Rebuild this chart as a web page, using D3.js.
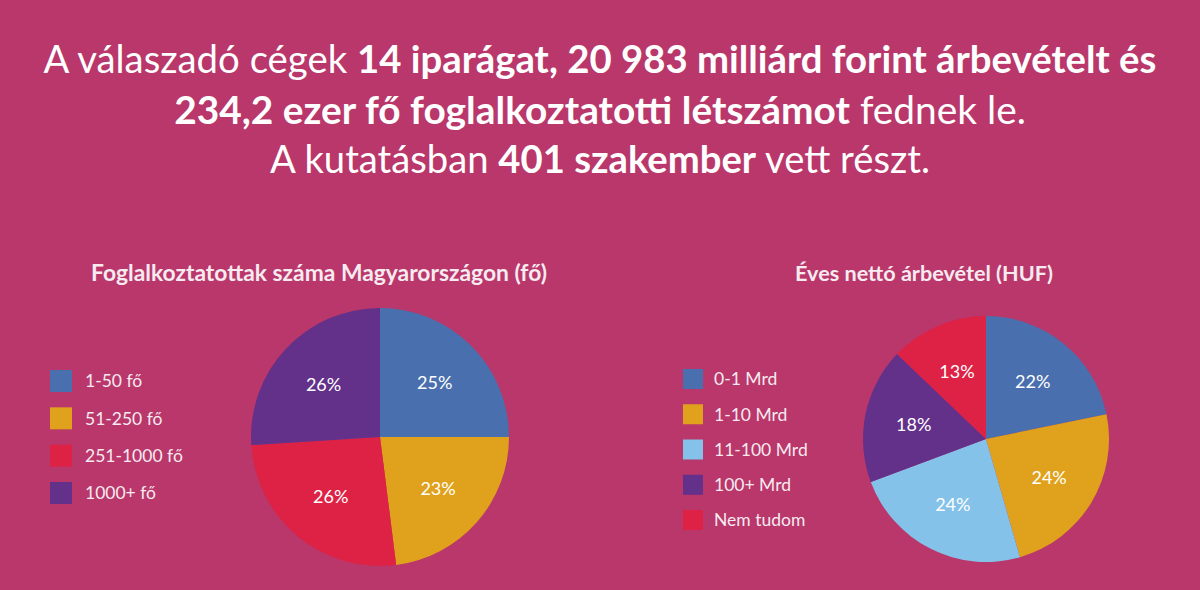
<!DOCTYPE html>
<html>
<head>
<meta charset="utf-8">
<script src="https://cdn.jsdelivr.net/npm/d3@7"></script>
<style>
  html, body { margin: 0; padding: 0; background: #b9376a; }
  svg { display: block; }
</style>
</head>
<body>
<svg id="chart"></svg>
<script>
// headline, each line is a list of [text, bold?] pieces
let headline = [
  [['A válaszadó cégek ', false], ['14 iparágat, 20 983 milliárd forint árbevételt és', true]],
  [['234,2 ezer fő foglalkoztatotti létszámot', true], [' fednek le.', false]],
  [['A kutatásban ', false], ['401 szakember', true], [' vett részt.', false]]
];

// left pie: employees in Hungary
let empTitle = 'Foglalkoztatottak száma Magyarországon (fő)';
let empCategories = ['1-50 fő', '51-250 fő', '251-1000 fő', '1000+ fő'];
let empValues = [25, 23, 26, 26];

// right pie: yearly net revenue
let revTitle = 'Éves nettó árbevétel (HUF)';
let revCategories = ['0-1 Mrd', '1-10 Mrd', '11-100 Mrd', '100+ Mrd', 'Nem tudom'];
let revValues = [22, 24, 24, 18, 13];

// colours
let blue = '#4a6fae', yellow = '#e0a21d', red = '#dd2246', purple = '#63308a', light = '#84c2ea';
let empColors = [blue, yellow, red, purple];
let revColors = [blue, yellow, light, purple, red];

let width = 1200, height = 590;
let svg = d3.select('#chart').attr('width', width).attr('height', height);

svg.append('rect')
  .attr('width', width).attr('height', height)
  .attr('fill', '#b9376a');

// headline text, fitted to the widths seen in the picture
let headFont = 'Lato, "Open Sans", sans-serif';
let headBase = [73, 124, 173];
let headWidth = [1113, 852, 660];
let head = svg.append('g').attr('id', 'headline');

headline.forEach(function(line, i) {
  let t = head.append('text')
    .attr('x', width / 2)
    .attr('y', headBase[i])
    .attr('text-anchor', 'middle')
    .attr('fill', '#ffffff')
    .style('font-family', headFont)
    .style('font-size', '36px');
  line.forEach(function(p) {
    t.append('tspan')
      .attr('font-weight', p[1] ? 700 : 400)
      .text(p[0]);
  });
  let w = t.node().getComputedTextLength();
  t.style('font-size', (36 * headWidth[i] / w) + 'px');
});

let labelFont = 'Lato, "Open Sans", sans-serif';

function drawPie(opts) {
  let g = svg.append('g').attr('class', 'pie-block');

  // title
  let title = g.append('text')
    .attr('x', opts.titleX)
    .attr('y', 281)
    .attr('text-anchor', 'middle')
    .attr('fill', '#f7eaf0')
    .attr('font-weight', 700)
    .style('font-family', labelFont)
    .style('font-size', '18px')
    .text(opts.title);
  let tw = title.node().getComputedTextLength();
  title.style('font-size', (18 * opts.titleWidth / tw) + 'px');

  let pie = d3.pie().sort(null).value(d => d)(opts.values);
  let arc = d3.arc().innerRadius(0).outerRadius(opts.r);
  let labelArc = d3.arc().innerRadius(opts.r * 0.6).outerRadius(opts.r * 0.6);

  let plot = g.append('g').attr('transform', translate(opts.cx, opts.cy));

  plot.selectAll('path')
    .data(pie)
    .enter()
    .append('path')
    .attr('d', arc)
    .attr('fill', (d, i) => opts.colors[i]);

  plot.selectAll('text')
    .data(pie)
    .enter()
    .append('text')
    .attr('transform', d => translate(labelArc.centroid(d)[0], labelArc.centroid(d)[1]))
    .attr('text-anchor', 'middle')
    .attr('dy', '0.36em')
    .attr('fill', '#ffffff')
    .style('font-family', labelFont)
    .style('font-size', '18px')
    .text(d => d.data + '%');

  // legend
  let rowScale = d3.scalePoint()
    .domain(opts.categories)
    .range(opts.legendRange);

  let legend = g.append('g').attr('class', 'legend');
  let rows = legend.selectAll('g')
    .data(opts.categories)
    .enter()
    .append('g')
    .attr('transform', d => translate(opts.legendX, rowScale(d)));

  rows.append('rect')
    .attr('x', 0)
    .attr('y', -opts.box / 2)
    .attr('width', opts.box)
    .attr('height', opts.box)
    .attr('fill', (d, i) => opts.colors[i]);

  rows.append('text')
    .attr('x', opts.textX)
    .attr('dy', '0.36em')
    .attr('fill', '#f7eaf0')
    .style('font-family', labelFont)
    .style('font-size', '17.5px')
    .text(d => d);
}

drawPie({
  title: empTitle, titleX: 319, titleWidth: 456,
  categories: empCategories, values: empValues, colors: empColors,
  cx: 380, cy: 437, r: 129,
  legendX: 50, legendRange: [381, 493], box: 22, textX: 35
});

drawPie({
  title: revTitle, titleX: 924, titleWidth: 258,
  categories: revCategories, values: revValues, colors: revColors,
  cx: 986, cy: 439, r: 123,
  legendX: 683, legendRange: [379, 520], box: 20, textX: 31
});

// helper method to make translating easier
function translate(x, y) {
  return 'translate(' + x + ',' + y + ')';
}
</script>
</body>
</html>
